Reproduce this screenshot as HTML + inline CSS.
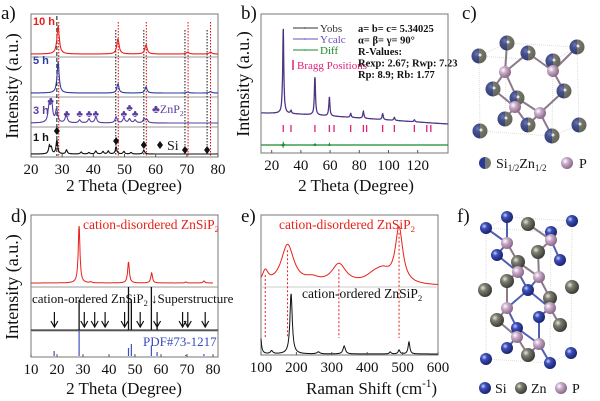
<!DOCTYPE html>
<html><head><meta charset="utf-8"><style>
html,body{margin:0;padding:0;background:#fff}
svg{display:block;font-family:"Liberation Serif",serif}
</style></head><body>
<svg id="fig" width="600" height="401" viewBox="0 0 600 401" xmlns="http://www.w3.org/2000/svg">
<defs>
<radialGradient id="gBlue" cx="35%" cy="35%" r="65%"><stop offset="0" stop-color="#c8d0ff"/><stop offset="0.35" stop-color="#3c4fb8"/><stop offset="1" stop-color="#1a2470"/></radialGradient>
<radialGradient id="gGray" cx="35%" cy="35%" r="65%"><stop offset="0" stop-color="#e8e8dc"/><stop offset="0.35" stop-color="#7c7d70"/><stop offset="1" stop-color="#3c3d35"/></radialGradient>
<radialGradient id="gPink" cx="35%" cy="35%" r="65%"><stop offset="0" stop-color="#ffffff"/><stop offset="0.4" stop-color="#c8aac8"/><stop offset="1" stop-color="#8a6a8a"/></radialGradient>
<linearGradient id="gMix" x1="0" y1="0" x2="1" y2="0"><stop offset="0.5" stop-color="#2a3a9a"/><stop offset="0.5" stop-color="#7a7b6e"/></linearGradient>
</defs>
<g id="root"></g>
</svg>
<script>
// ---------- DATA ----------
const aTicks = [20,30,40,50,60,70,80];
const a10Peaks = [28.7,47.9,56.9,70.3,77.6];
const a10Heights = [28,15,9,2,2];
const a5Peaks = [28.7,47.9,56.9,70.3,77.6];
const a5Heights = [31,9,6,1,1.5];
const a3Peaks = [25.8,26.6,28.2,31.3,35.6,38.6,40.8,47.3,49.8,51.6,53.4,56.3,57.2];
const a3Heights = [16,20,13,8,3,4,6,6,5,4,3,4,3];
const a1Peaks = [25.9,26.5,28.3,31.4,36.1,38.6,40.8,43.1,44.8,47.3,49.8,52.1,56.2];
const a1Heights = [8,6,14,4,2,1.5,3,2.5,3,7,2.5,1.5,4];
const aDiamonds = [28.3,47.3,56.2,69.4,76.5];
const aBlackLines = [28.3,47.2,56.2,69.4,76.5];
const aRedLines = [28.9,48.0,57.0,70.4,77.6];
const aClubs = [26.3,31.5,35.6,38.6,40.8,49.8,51.6,53.4];

const bTicks = [20,40,60,80,100,120];
const bPeaks = [27.9,33.2,49.6,59.5,74.1,82.8,96,104,117.7];
const bHeights = [85,3,38,19,4,7,6,3,2];
const bBaseT = [13,30,50,70,90,110,130,141];
const bBaseV = [0,0.5,2,4,6,8,10,11];
const bBragg = [27.9,33.2,49.6,59.5,62.7,74.1,82.8,85,96,104,117.7,126.2,129];

const dTicks = [10,20,30,40,50,60,70,80];
const dRedPeaks = [28.5,33,47.5,56.4,69.5,76.5];
const dRedHeights = [57,1,21,10,1,2];
const dBlackSticks = [28.5,47.5,48.6,56.3,58.5];
const dBlackHeights = [30,43,30,43,8];
const dArrows = [19,30.5,34.5,38.5,46,52,58.5,68.3,70.3,77];
const dBlueSticks = [18.9,28.5,47.5,48.6,56.3,58.5,69.5,76.5];
const dBlueHeights = [5,25,8,12,10,4,1,2];

const eTicks = [100,200,300,400,500,600];
const eRedPeaks = [112,175,245,320,420,445,490];
const eRedHeights = [12,40,5,20,8,10,55];
const eRedWidths = [10,22,25,25,30,25,13];
const eBlackPeaks = [98,130,185,262,335,465,490,518];
const eBlackHeights = [22,3,60,2,8,2,4,12];
const eBlackWidths = [3,4,4,5,4,3,3,3];
const eDashes = [112,175,320,490];

// ---------- HELPERS ----------
const NS="http://www.w3.org/2000/svg";
const root=document.getElementById('root');
function mk(tag,attrs,parent){const e=document.createElementNS(NS,tag);for(const k in attrs)e.setAttribute(k,attrs[k]);(parent||root).appendChild(e);return e;}
function txt(s,attrs,parent){const e=mk('text',attrs,parent);e.textContent=s;return e;}
function lor(t,c,h,w){return h/(1+((t-c)/w)*((t-c)/w));}
function pathFrom(pts){return 'M'+pts.map(p=>p[0].toFixed(1)+','+p[1].toFixed(1)).join('L');}
function frame(x0,y0,x1,y1,name){const r=mk('rect',{x:x0,y:y0,width:x1-x0,height:y1-y0,fill:'none',stroke:'#777','stroke-width':1});}
function xticks(ticks,fx,yb,name){const g=mk('g',{});
 ticks.forEach(t=>{mk('line',{x1:fx(t),y1:yb,x2:fx(t),y2:yb-3,stroke:'#555'},g);txt(String(t),{x:fx(t),y:yb+17,'font-size':15,'text-anchor':'middle',fill:'#111'},g);});}
function ylabel(s,x,y,name){const e=txt(s,{x:x,y:y,'font-size':18,'text-anchor':'middle',transform:`rotate(-90 ${x} ${y})`,fill:'#111'});}
function label(s,x,y,size,name,extra){const e=txt(s,Object.assign({x:x,y:y,'font-size':size,fill:'#111'},extra||{}));return e;}
// parts: [text, 'n'|'sub'|'sup']
function rich(parts,x,y,size,name,extra){const e=mk('text',Object.assign({x:x,y:y,'font-size':size,fill:'#111'},extra||{}));
 let shift=0;parts.forEach(p=>{const want=p[1]=='sub'?3:(p[1]=='sup'?-7:0);const ts=mk('tspan',{dy:want-shift,'font-size':p[1]=='n'?size:size*0.65},e);ts.textContent=p[0];shift=want;});return e;}
function curve(fx,fy,t0,t1,n,f,color,name,w){const pts=[];for(let i=0;i<=n;i++){const t=t0+(t1-t0)*i/n;pts.push([fx(t),fy(f(t,i))]);}
 const p=mk('path',{d:pathFrom(pts),fill:'none',stroke:color,'stroke-width':w||1});return p;}

// ---------- PANEL A ----------
const ax=t=>31+(t-20)*(187/60);
frame(31,14,218,157,'panel-a-frame');
[57,97,127].forEach((y,i)=>{const l=mk('line',{x1:31,y1:y,x2:218,y2:y,stroke:'#999'});});
aBlackLines.forEach((t,i)=>{const l=mk('line',{x1:ax(t),y1:i==0?16:30,x2:ax(t),y2:156,stroke:'#111','stroke-dasharray':i==0?'4,2':'1.5,1.5','stroke-width':1});});
aRedLines.forEach(t=>{const l=mk('line',{x1:ax(t),y1:22,x2:ax(t),y2:156,stroke:'#e00','stroke-dasharray':'1.5,1.5'});});
function sumPk(P,H,w){return t=>{let s=0;for(let i=0;i<P.length;i++)s+=lor(t,P[i],H[i],w);return s;};}
curve(ax,v=>54-v,20,80,600,sumPk(a10Peaks,a10Heights,0.45),'#e8201a','series-10h',1.1);
curve(ax,v=>93-v,20,80,600,sumPk(a5Peaks,a5Heights,0.4),'#2a3ea0','series-5h',1.1);
curve(ax,v=>123-v,20,80,600,sumPk(a3Peaks,a3Heights,0.4),'#5a3e9e','series-3h',1.1);
curve(ax,v=>154-v,20,80,600,sumPk(a1Peaks,a1Heights,0.3),'#111','series-1h',1.1);
label('10 h',33,25,11,'label-10h',{fill:'#e8201a','font-weight':'bold','font-family':'Liberation Sans, sans-serif'});
label('5 h',33,64,11,'label-5h',{fill:'#2a3ea0','font-weight':'bold','font-family':'Liberation Sans, sans-serif'});
label('3 h',33,114,11,'label-3h',{fill:'#5a3e9e','font-weight':'bold','font-family':'Liberation Sans, sans-serif'});
label('1 h',33,141,11,'label-1h',{fill:'#111','font-weight':'bold','font-family':'Liberation Sans, sans-serif'});
aClubs.forEach(t=>{const y=t<27?104:(t==51.6?111:117);const e=txt('♣',{x:ax(t),y:y,'font-size':10,'text-anchor':'middle',fill:'#5a3e9e'});});
rich([['♣ZnP','n'],['2','sub']],152,113,12,'legend-znp2',{fill:'#5a3e9e'});
aDiamonds.forEach((t,i)=>{const y=[131,141,145,150,150][i];const d=mk('path',{d:`M${ax(t)},${y-4}L${ax(t)+3},${y}L${ax(t)},${y+4}L${ax(t)-3},${y}Z`,fill:'#111'});});
{const d=mk('path',{d:`M160,141L163,145L160,149L157,145Z`,fill:'#111'});}
label('Si',167,150,14,'legend-si');
xticks(aTicks,ax,157,'panel-a-x-ticks');
label('2 Theta (Degree)',124,191,17,'panel-a-x-title',{'text-anchor':'middle'});
ylabel('Intensity (a.u.)',18,86,'panel-a-y-title');
label('a)',1,19,19,'panel-a-letter');

// ---------- PANEL B ----------
const bx=t=>271.7+(t-20)*1.46;
frame(261,14,448,153,'panel-b-frame');
function bBase(t){for(let i=0;i<bBaseT.length-1;i++){if(t<=bBaseT[i+1]){const f=(t-bBaseT[i])/(bBaseT[i+1]-bBaseT[i]);return bBaseV[i]+f*(bBaseV[i+1]-bBaseV[i]);}}return bBaseV[bBaseV.length-1];}
const bF=t=>{let s=0;for(let i=0;i<bPeaks.length;i++)s+=lor(t,bPeaks[i],bHeights[i],0.45);return s;};
curve(bx,v=>113-v,13,141,900,t=>bF(t)-bBase(t),'#5a3e9e','ycalc-curve',1.3);
curve(bx,v=>113-v,13,141,900,t=>bF(t)-bBase(t),'#222','yobs-curve',0.5).setAttribute('stroke-dasharray','1,1');
bBragg.forEach(t=>{const l=mk('line',{x1:bx(t),y1:125,x2:bx(t),y2:132,stroke:'#e0207a','stroke-width':1.3});});
curve(bx,v=>145-v,13,141,600,(t)=>{let s=0;for(let i=0;i<3;i++)s+=lor(t,bPeaks[[0,2,3][i]],[3,1.5,1][i],0.3)*Math.sin(t*7);return s;},'#1a8a2a','diff-curve',1.2);
[['Yobs','#333',32],['Ycalc','#6a4ec0',43],['Diff','#1a8a2a',54]].forEach(l=>{const g=mk('g',{});
 mk('line',{x1:293,y1:l[2]-4,x2:318,y2:l[2]-4,stroke:l[1]},g);mk('circle',{cx:305,cy:l[2]-4,r:0.8,fill:l[1]},g);txt(l[0],{x:320,y:l[2],'font-size':11,fill:l[1]},g);});
{const g=mk('g',{});mk('line',{x1:293,y1:60,x2:293,y2:70,stroke:'#e0207a','stroke-width':1.5},g);txt('Bragg Positions',{x:297,y:69,'font-size':11,fill:'#e0207a'},g);}
const bInfo=['a= b= c= 5.34025','α= β= γ= 90°','R-Values:','Rexp: 2.67; Rwp: 7.23','Rp: 8.9; Rb: 1.77'];
bInfo.forEach((s,i)=>label(s,358,32+i*11.5,10.5,'refinement-info',{'font-weight':'bold'}));
xticks(bTicks,bx,153,'panel-b-x-ticks');
label('2 Theta (Degree)',356,191,17,'panel-b-x-title',{'text-anchor':'middle'});
ylabel('Intensity (a.u.)',249,84,'panel-b-y-title');
label('b)',241,19,19,'panel-b-letter');

// ---------- CRYSTALS ----------
function crystal(atoms,pinks,name){
 const g=mk('g',{});
 pinks.forEach(p=>{const d=atoms.map(a=>[(a[0]-p[0])**2+(a[1]-p[1])**2,a]).sort((u,v)=>u[0]-v[0]).slice(0,4);
  d.forEach(q=>{mk('line',{x1:p[0],y1:p[1],x2:q[1][0],y2:q[1][1],stroke:q[1][2]=='b'?'#5060b0':'#8a7a8a','stroke-width':2},g);});});
 const all=atoms.map(a=>[a[0],a[1],a[2]]).concat(pinks.map(p=>[p[0],p[1],'p'])).sort((u,v)=>u[1]-v[1]);
 all.forEach(a=>{const r=a[2]=='p'?6:(a[2]=='b'?6:(a[2]=='g'?7:7.5));
  if(a[2]=='m'){mk('circle',{cx:a[0],cy:a[1],r:r,fill:'url(#gMix)'},g);mk('circle',{cx:a[0],cy:a[1],r:r,fill:'url(#gGray)',opacity:0.35},g);mk('circle',{cx:a[0]+1,cy:a[1]-1,r:1.5,fill:'#fff',opacity:0.8},g);}
  else mk('circle',{cx:a[0],cy:a[1],r:r,fill:a[2]=='b'?'url(#gBlue)':(a[2]=='g'?'url(#gGray)':'url(#gPink)')},g);});
}
const cAtoms=[[479,56,'m'],[507,43,'m'],[528,53,'m'],[553,61,'m'],[577,47,'m'],[493,89,'m'],[517,98,'m'],[564,91,'m'],[505,119,'m'],[528,125,'m'],[579,125,'m'],[480,131,'m'],[552,136,'m']];
const cP=[[505,72],[553,71],[515,107],[540,113]];
{const g=mk('g',{});
 [[479,56,553,61],[507,43,577,47],[479,56,507,43],[553,61,577,47],[480,131,552,136],[479,56,480,131],[553,61,552,136],[577,47,579,125],[552,136,579,125],[507,43,505,119]].forEach(l=>mk('line',{x1:l[0],y1:l[1],x2:l[2],y2:l[3],stroke:'#ddd','stroke-dasharray':'1,1'},g));}
crystal(cAtoms,cP,'panel-c-structure');
{const g=mk('g',{});
 mk('circle',{cx:485,cy:163,r:6,fill:'url(#gMix)'},g);
 mk('circle',{cx:567,cy:163,r:6,fill:'url(#gPink)'},g);txt('P',{x:579,y:168,'font-size':14,fill:'#111'},g);}
rich([['Si','n'],['1/2','sub'],['Zn','n'],['1/2','sub']],496,168,14,'panel-c-legend-label');
label('c)',462,19,19,'panel-c-letter');

const fAtoms=[[507,217,'b'],[486,228,'b'],[551,232,'b'],[572,221,'b'],[497,255,'b'],[560,260,'b'],[528,290,'b'],[539,317,'b'],[517,328,'b'],[507,348,'b'],[486,359,'b'],[550,363,'b'],[571,353,'b'],
 [528,224,'g'],[538,252,'g'],[518,262,'g'],[507,281,'g'],[572,287,'g'],[485,290,'g'],[550,298,'g'],[497,320,'g'],[560,325,'g'],[528,355,'g']];
const fP=[[507,243],[551,240],[518,272],[539,277],[507,308],[550,308],[517,337],[539,344]];
{const g=mk('g',{});
 [[486,228,551,232],[507,217,572,221],[486,228,507,217],[551,232,572,221],[486,359,550,363],[486,228,486,359],[551,232,550,363],[572,221,571,353],[550,363,571,353]].forEach(l=>mk('line',{x1:l[0],y1:l[1],x2:l[2],y2:l[3],stroke:'#ddd','stroke-dasharray':'1,1'},g));}
crystal(fAtoms,fP,'panel-f-structure');
{const g=mk('g',{});
 mk('circle',{cx:485,cy:388,r:6,fill:'url(#gBlue)'},g);txt('Si',{x:495,y:393,'font-size':14,fill:'#111'},g);
 mk('circle',{cx:521,cy:388,r:6,fill:'url(#gGray)'},g);txt('Zn',{x:531,y:393,'font-size':14,fill:'#111'},g);
 mk('circle',{cx:561,cy:388,r:6,fill:'url(#gPink)'},g);txt('P',{x:572,y:393,'font-size':14,fill:'#111'},g);}
label('f)',457,222,19,'panel-f-letter');

// ---------- PANEL D ----------
const dx=t=>31+(t-10)*2.6;
frame(31,215,218,357,'panel-d-frame');
[287,331].forEach(y=>{const l=mk('line',{x1:31,y1:y,x2:218,y2:y,stroke:'#999'});});
curve(dx,v=>283-v,10,80,700,sumPk(dRedPeaks,dRedHeights,0.4),'#e8201a','disordered-xrd',1);
dBlackSticks.forEach((t,i)=>{const l=mk('line',{x1:dx(t),y1:330,x2:dx(t),y2:330-dBlackHeights[i],stroke:'#111','stroke-width':1.3});});
{const l=mk('line',{x1:31,y1:330,x2:218,y2:330,stroke:'#111'});}
dArrows.forEach(t=>{const g=mk('g',{});
 mk('line',{x1:dx(t),y1:312,x2:dx(t),y2:326,stroke:'#111','stroke-width':1.2},g);mk('path',{d:`M${dx(t)-3.5},${321}L${dx(t)},${327}L${dx(t)+3.5},${321}`,fill:'none',stroke:'#111','stroke-width':1.2},g);});
dBlueSticks.forEach((t,i)=>{const l=mk('line',{x1:dx(t),y1:356,x2:dx(t),y2:356-dBlueHeights[i],stroke:'#4050c0','stroke-width':1.2});});
rich([['cation-disordered ZnSiP','n'],['2','sub']],83,229,13.5,'disordered-label',{fill:'#e8201a'});
rich([['cation-ordered ZnSiP','n'],['2','sub'],[' ↓','n'],['Superstructure','n']],32,303,13,'ordered-label');
label('PDF#73-1217',143,346,13,'pdf-label',{fill:'#3a4ab8'});
xticks(dTicks,dx,357,'panel-d-x-ticks');
label('2 Theta (Degree)',124,394,17,'panel-d-x-title',{'text-anchor':'middle'});
ylabel('Intensity (a.u.)',18,287,'panel-d-y-title');
label('d)',11,222,19,'panel-d-letter');

// ---------- PANEL E ----------
const ex=r=>261+(r-100)*(177/500);
frame(261,215,438,355,'panel-e-frame');
{const l=mk('line',{x1:261,y1:287,x2:438,y2:287,stroke:'#ccc'});}
const eRedF=r=>{let s=0;for(let i=0;i<eRedPeaks.length;i++)s+=lor(r,eRedPeaks[i],eRedHeights[i],eRedWidths[i]);return s;};
curve(ex,v=>286-v,100,600,500,r=>eRedF(r),'#e8201a','disordered-raman',1);
const eBlackF=r=>{let s=0;for(let i=0;i<eBlackPeaks.length;i++)s+=lor(r,eBlackPeaks[i],eBlackHeights[i],eBlackWidths[i]);return s;};
curve(ex,v=>354-v,100,600,1000,r=>eBlackF(r),'#111','ordered-raman',1);
eDashes.forEach(r=>{const l=mk('line',{x1:ex(r),y1:286-eRedF(r)+6,x2:ex(r),y2:338,stroke:'#e8201a','stroke-dasharray':'2,2'});});
rich([['cation-disordered ZnSiP','n'],['2','sub']],279,229,13.5,'raman-disordered-label',{fill:'#e8201a'});
rich([['cation-ordered ZnSiP','n'],['2','sub']],302,298,13.5,'raman-ordered-label');
xticks(eTicks,ex,355,'panel-e-x-ticks');
rich([['Raman Shift (cm','n'],['-1','sup'],[')','n']],306,394,17,'panel-e-x-title');
label('e)',241,222,19,'panel-e-letter');
</script>
</body></html>
